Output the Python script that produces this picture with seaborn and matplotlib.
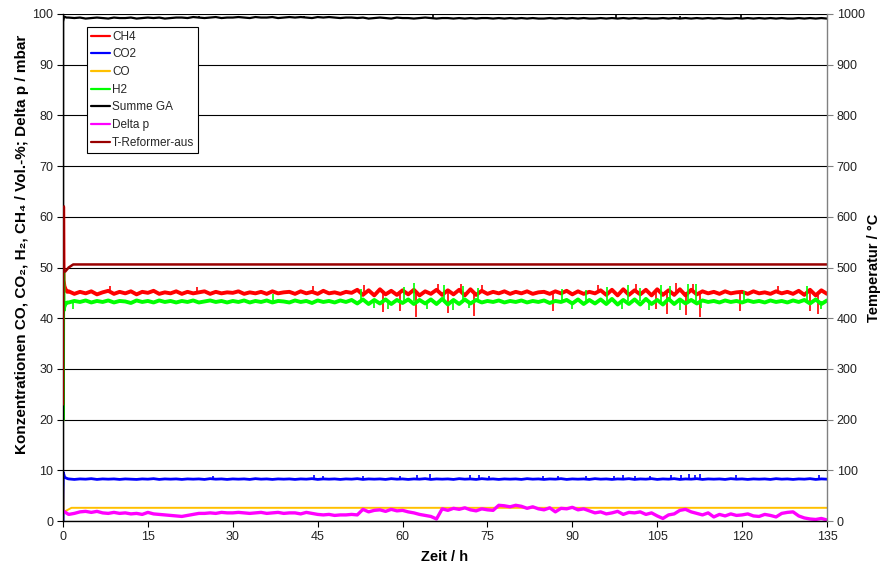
import numpy as np
import matplotlib
matplotlib.use("Agg")
import matplotlib.pyplot as plt
import seaborn as sns

# ---------------- data ----------------
hours = list(range(1, 136))

# start-up transients (hours, values)
ch4_start_t = [0.0, 0.03, 0.1, 0.25, 0.5, 0.75]
ch4_start_v = [20.0, 62.0, 47.5, 46.3, 45.6, 45.2]
ch4_hourly = [
    45.3, 44.8, 45.2, 44.9, 45.3, 44.7, 45.1, 45.4, 44.8, 45.2,
    44.9, 45.3, 44.7, 45.2, 45.0, 45.4, 44.8, 45.1, 44.9, 45.3,
    44.8, 45.2, 44.9, 45.1, 45.3, 44.8, 45.2, 44.9, 45.1, 45.0,
    45.3, 44.8, 45.1, 44.9, 45.2, 44.8, 45.3, 44.9, 45.1, 45.2,
    44.8, 45.3, 44.9, 45.2, 44.8, 45.4, 44.9, 45.1, 44.8, 45.2,
    45.0, 45.6, 44.6, 45.5, 44.5, 45.7, 44.7, 45.4, 44.6, 45.5,
    44.7, 45.6, 44.5, 45.3, 44.8, 45.6, 44.6, 45.5, 44.7, 45.6,
    44.5, 45.7, 44.6, 45.4, 44.8, 45.2, 44.9, 45.3, 44.8, 45.2,
    44.9, 45.3, 44.8, 45.1, 45.2, 44.8, 45.3, 44.9, 45.4, 44.7,
    45.3, 44.8, 45.2, 44.9, 45.5, 44.6, 45.6, 44.5, 45.7, 44.6,
    45.5, 44.7, 45.6, 44.5, 45.7, 44.6, 45.5, 44.6, 45.7, 44.5,
    45.6, 44.7, 45.3, 44.9, 45.2, 44.8, 45.3, 44.9, 45.1, 45.2,
    44.8, 45.3, 44.9, 45.1, 44.8, 45.3, 44.9, 45.2, 44.8, 45.4,
    44.6, 45.6, 44.5, 45.5, 44.8,
]
ch4_spike_t = [8.3, 23.6, 44.2, 53.1, 56.5, 59.6, 62.3, 66.2, 68.0, 70.4, 72.6, 74.1,
               86.6, 94.5, 101.2, 104.8, 106.7, 108.3, 110.1, 111.4, 112.6, 119.6,
               126.3, 132.0, 133.4]
ch4_spike_v = [46.3, 46.2, 46.4, 46.6, 41.3, 41.5, 40.2, 46.7, 41.0, 46.8, 40.5, 46.6,
               41.5, 46.6, 46.8, 41.8, 40.8, 46.9, 40.6, 46.7, 40.3, 41.5,
               46.4, 41.5, 40.8]

h2_start_t = [0.0, 0.03, 0.1, 0.25, 0.5, 0.75]
h2_start_v = [20.0, 49.0, 41.5, 42.3, 42.9, 43.1]
h2_hourly = [
    43.1, 43.4, 43.2, 43.5, 43.1, 43.4, 43.2, 43.5, 43.1, 43.4,
    43.3, 43.0, 43.5, 43.2, 43.4, 43.1, 43.5, 43.2, 43.4, 43.1,
    43.4, 43.2, 43.5, 43.1, 43.3, 43.5, 43.2, 43.4, 43.1, 43.4,
    43.2, 43.5, 43.1, 43.4, 43.2, 43.5, 43.1, 43.4, 43.3, 43.1,
    43.5, 43.2, 43.4, 43.0, 43.5, 43.2, 43.4, 43.1, 43.5, 43.2,
    43.6, 42.9, 43.7, 42.8, 43.6, 42.9, 43.7, 42.8, 43.6, 43.0,
    43.7, 42.8, 43.6, 42.9, 43.7, 42.8, 43.8, 42.7, 43.6, 42.8,
    43.7, 42.9, 43.6, 43.1, 43.4, 43.2, 43.5, 43.1, 43.4, 43.2,
    43.5, 43.1, 43.4, 43.2, 43.5, 43.0, 43.4, 43.2, 43.6, 42.9,
    43.7, 42.8, 43.6, 42.9, 43.7, 42.8, 43.8, 42.7, 43.6, 42.8,
    43.7, 42.7, 43.8, 42.8, 43.6, 42.7, 43.8, 42.8, 43.7, 42.9,
    43.6, 42.9, 43.5, 43.2, 43.4, 43.1, 43.5, 43.2, 43.4, 43.1,
    43.5, 43.2, 43.4, 43.1, 43.5, 43.2, 43.4, 43.1, 43.5, 43.2,
    43.6, 42.9, 43.7, 42.8, 43.5,
]
h2_spike_t = [1.8, 37.1, 52.6, 54.9, 57.5, 60.3, 62.1, 64.4, 67.3, 69.0, 70.7, 71.8,
              73.3, 88.2, 90.0, 92.4, 96.1, 98.7, 99.9, 102.0, 103.5, 105.6, 107.2,
              109.0, 110.5, 111.9, 112.8, 120.3, 131.5, 133.9]
h2_spike_v = [41.8, 44.8, 45.8, 42.0, 41.9, 46.2, 47.0, 41.8, 46.5, 41.7, 46.3, 42.0,
              46.0, 45.8, 41.9, 45.5, 46.2, 41.8, 46.6, 46.0, 41.7, 46.5, 46.4,
              41.6, 46.8, 46.7, 42.0, 45.4, 46.3, 41.9]

co2_start_t = [0.0, 0.05, 0.3, 0.8]
co2_start_v = [0.0, 9.6, 8.6, 8.35]
co2_hourly = [
    8.30, 8.20, 8.30, 8.25, 8.35, 8.20, 8.30, 8.25, 8.30, 8.20,
    8.30, 8.25, 8.20, 8.30, 8.25, 8.35, 8.20, 8.30, 8.25, 8.30,
    8.20, 8.30, 8.25, 8.30, 8.20, 8.35, 8.25, 8.30, 8.20, 8.30,
    8.25, 8.30, 8.20, 8.35, 8.25, 8.30, 8.20, 8.30, 8.25, 8.30,
    8.20, 8.30, 8.25, 8.35, 8.20, 8.30, 8.25, 8.30, 8.20, 8.30,
    8.25, 8.35, 8.20, 8.30, 8.25, 8.30, 8.20, 8.35, 8.25, 8.30,
    8.20, 8.30, 8.25, 8.35, 8.20, 8.30, 8.25, 8.30, 8.20, 8.35,
    8.25, 8.30, 8.20, 8.35, 8.25, 8.30, 8.20, 8.30, 8.25, 8.30,
    8.20, 8.35, 8.25, 8.30, 8.20, 8.30, 8.25, 8.35, 8.20, 8.30,
    8.25, 8.30, 8.20, 8.35, 8.25, 8.30, 8.20, 8.30, 8.25, 8.35,
    8.20, 8.30, 8.25, 8.35, 8.20, 8.30, 8.25, 8.35, 8.20, 8.30,
    8.25, 8.35, 8.20, 8.30, 8.25, 8.30, 8.20, 8.35, 8.25, 8.30,
    8.20, 8.30, 8.25, 8.30, 8.20, 8.35, 8.25, 8.30, 8.20, 8.30,
    8.25, 8.35, 8.20, 8.30, 8.25,
]
co2_spike_t = [26.5, 44.3, 46.0, 53.0, 59.5, 62.5, 64.8, 72.0, 73.5, 75.2, 84.9, 87.4,
               92.5, 97.3, 99.0, 101.0, 103.8, 107.5, 109.2, 110.7, 111.6, 112.5,
               119.0, 133.5]
co2_spike_v = [8.9, 9.0, 8.8, 8.9, 8.8, 9.0, 9.3, 9.1, 9.0, 8.9, 8.8, 8.9,
               8.8, 8.9, 9.0, 8.8, 8.9, 9.0, 9.1, 9.2, 9.1, 9.3,
               9.0, 9.1]

co_t = [0.0, 0.02, 0.1, 0.5, 1.5, 135.0]
co_v = [0.0, 7.0, 1.8, 2.0, 2.6, 2.6]

summe_start_t = [0.0, 0.02, 0.2, 0.6]
summe_start_v = [0.0, 98.5, 99.5, 99.3]
summe_hourly = [
    99.3, 99.2, 99.3, 99.1, 99.2, 99.3, 99.2, 99.1, 99.3, 99.2,
    99.2, 99.3, 99.1, 99.2, 99.3, 99.2, 99.3, 99.1, 99.2, 99.3,
    99.3, 99.2, 99.4, 99.3, 99.2, 99.3, 99.4, 99.2, 99.3, 99.3,
    99.4, 99.3, 99.2, 99.4, 99.3, 99.3, 99.4, 99.2, 99.3, 99.4,
    99.3, 99.4, 99.3, 99.2, 99.4, 99.3, 99.4, 99.3, 99.2, 99.3,
    99.3, 99.2, 99.3, 99.1, 99.2, 99.3, 99.2, 99.1, 99.3, 99.2,
    99.2, 99.1, 99.2, 99.3, 99.2, 99.1, 99.2, 99.2, 99.1, 99.2,
    99.1, 99.2, 99.1, 99.2, 99.2, 99.1, 99.2, 99.1, 99.2, 99.1,
    99.2, 99.1, 99.2, 99.1, 99.1, 99.2, 99.1, 99.2, 99.1, 99.2,
    99.1, 99.2, 99.1, 99.1, 99.2, 99.1, 99.2, 99.1, 99.2, 99.1,
    99.2, 99.1, 99.2, 99.1, 99.1, 99.2, 99.1, 99.2, 99.1, 99.2,
    99.1, 99.2, 99.1, 99.2, 99.1, 99.2, 99.1, 99.1, 99.2, 99.1,
    99.2, 99.1, 99.2, 99.1, 99.2, 99.1, 99.2, 99.1, 99.1, 99.2,
    99.1, 99.2, 99.1, 99.2, 99.1,
]
summe_spike_t = [24.0, 42.5, 65.3, 97.7, 109.0, 119.8]
summe_spike_v = [99.7, 99.6, 99.9, 99.8, 99.7, 99.8]

dp_hours = list(range(0, 136))
dp_values = [
    2.0, 1.3, 1.5, 1.8, 1.9, 1.7, 1.9, 1.6, 1.5, 1.7, 1.5,
    1.6, 1.4, 1.5, 1.3, 1.7, 1.4, 1.3, 1.2, 1.1, 1.0,
    0.9, 1.1, 1.3, 1.5, 1.5, 1.6, 1.5, 1.7, 1.6, 1.6,
    1.7, 1.6, 1.5, 1.6, 1.7, 1.5, 1.6, 1.7, 1.5, 1.6,
    1.6, 1.4, 1.7, 1.5, 1.3, 1.2, 1.3, 1.1, 1.2, 1.2,
    1.3, 1.2, 2.3, 1.8, 2.1, 2.2, 1.9, 2.3, 2.0, 2.1,
    1.8, 1.6, 1.3, 1.1, 0.9, 0.4, 2.4, 2.1, 2.5, 2.3,
    2.6, 2.2, 2.0, 2.4, 2.2, 2.1, 3.1, 3.0, 2.8, 3.1,
    2.9, 2.5, 2.8, 2.4, 2.2, 2.6, 1.8, 2.5, 2.4, 2.7,
    2.2, 2.4, 2.0, 1.6, 1.8, 1.4, 1.6, 1.9, 1.3, 1.7,
    1.6, 1.8, 1.3, 1.6, 1.0, 0.5, 1.2, 1.4, 2.1, 2.3,
    1.8, 1.5, 1.2, 1.6, 0.8, 1.3, 1.0, 1.4, 1.1, 1.2,
    1.4, 1.0, 0.9, 1.3, 1.1, 0.8, 1.5, 1.7, 1.8, 1.0,
    0.6, 0.4, 0.3, 0.5, 0.2,
]

t_ref_t = [0.0, 0.03, 0.15, 0.4, 1.0, 1.8, 135.0]
t_ref_v = [230.0, 620.0, 495.0, 492.0, 500.0, 506.0, 506.0]

labels = ["CH4", "CO2", "CO", "H2", "Summe GA", "Delta p", "T-Reformer-aus"]
colors = ["#FF0000", "#0000FF", "#FFC000", "#00FF00", "#000000", "#FF00FF", "#990000"]

# ---------------- figure ----------------
sns.set_style("ticks")
plt.rcParams["font.family"] = ["Liberation Sans", "DejaVu Sans"]

W, H = 881, 569
fig = plt.figure(figsize=(W / 100, H / 100), dpi=100)
ax = fig.add_axes([63 / W, 48 / H, 764 / W, 507 / H])
ax2 = ax.twinx()

ax.set_xlim(0, 135)
ax.set_ylim(0, 100)
ax2.set_ylim(0, 1000)

ax.yaxis.grid(True, color="black", lw=0.8)
ax.set_axisbelow(True)


def draw(t_start, v_start, hourly, spikes_t, spikes_v, color, label, lw):
    t = list(t_start) + hours
    v = list(v_start) + list(hourly)
    sns.lineplot(x=t, y=v, ax=ax, color=color, lw=lw, label=label,
                 estimator=None, sort=True, legend=False)
    if spikes_t:
        base = float(np.median(hourly))
        ax.vlines(spikes_t, base, spikes_v, color=color, lw=1.2)


draw(ch4_start_t, ch4_start_v, ch4_hourly, ch4_spike_t, ch4_spike_v, colors[0], labels[0], 2.8)
draw(co2_start_t, co2_start_v, co2_hourly, co2_spike_t, co2_spike_v, colors[1], labels[1], 2.0)
sns.lineplot(x=co_t, y=co_v, ax=ax, color=colors[2], lw=1.4, label=labels[2],
             estimator=None, legend=False)
draw(h2_start_t, h2_start_v, h2_hourly, h2_spike_t, h2_spike_v, colors[3], labels[3], 2.8)
draw(summe_start_t, summe_start_v, summe_hourly, summe_spike_t, summe_spike_v, colors[4], labels[4], 1.6)
sns.lineplot(x=dp_hours, y=dp_values, ax=ax, color=colors[5], lw=2.4, label=labels[5],
             estimator=None, legend=False)
sns.lineplot(x=t_ref_t, y=t_ref_v, ax=ax2, color=colors[6], lw=1.8, label=labels[6],
             estimator=None, legend=False)

# ticks
ax.set_xticks(range(0, 136, 15))
ax.set_yticks(range(0, 101, 10))
ax2.set_yticks(range(0, 1001, 100))
for a in (ax, ax2):
    a.tick_params(direction="out", length=4, width=0.8, labelsize=9,
                  colors="#222222", pad=3)
ax.tick_params(axis="both", color="black")
ax2.tick_params(axis="y", color="#808080")

# spines
ax.spines["top"].set_visible(False)
ax2.spines["top"].set_visible(False)
ax2.spines["left"].set_visible(False)
ax2.spines["bottom"].set_visible(False)
ax.spines["right"].set_visible(False)
ax.spines["left"].set_color("black")
ax.spines["bottom"].set_color("black")
ax2.spines["right"].set_color("#808080")
for s in ax.spines.values():
    s.set_linewidth(1.0)
ax2.spines["right"].set_linewidth(1.0)

# labels
ax.set_xlabel("Zeit / h", fontsize=10.5, fontweight="bold", color="black")
ax.xaxis.set_label_coords(0.5, -0.058)
ax.set_ylabel("Konzentrationen CO, CO₂, H₂, CH₄ / Vol.-%; Delta p / mbar",
              fontsize=11, fontweight="bold", color="black")
ax.yaxis.set_label_coords(-0.045, 0.546)
ax2.set_ylabel("Temperatur / °C", fontsize=10.5, fontweight="bold", color="black")
ax2.yaxis.set_label_coords(1.052, 0.5)

# legend
h_all = [h for h in ax.get_lines() if h.get_label() in labels] + \
        [h for h in ax2.get_lines() if h.get_label() in labels]
leg = ax2.legend(h_all, [h.get_label() for h in h_all], loc="upper left",
                 bbox_to_anchor=(0.031, 0.975), fontsize=8.5, frameon=True,
                 fancybox=False, edgecolor="black", framealpha=1,
                 handlelength=1.6, handletextpad=0.2, labelspacing=0.48,
                 borderpad=0.35, borderaxespad=0)
leg.get_frame().set_linewidth(0.8)
for line in leg.get_lines():
    line.set_linewidth(1.6)

fig.savefig("out.png", dpi=100)
